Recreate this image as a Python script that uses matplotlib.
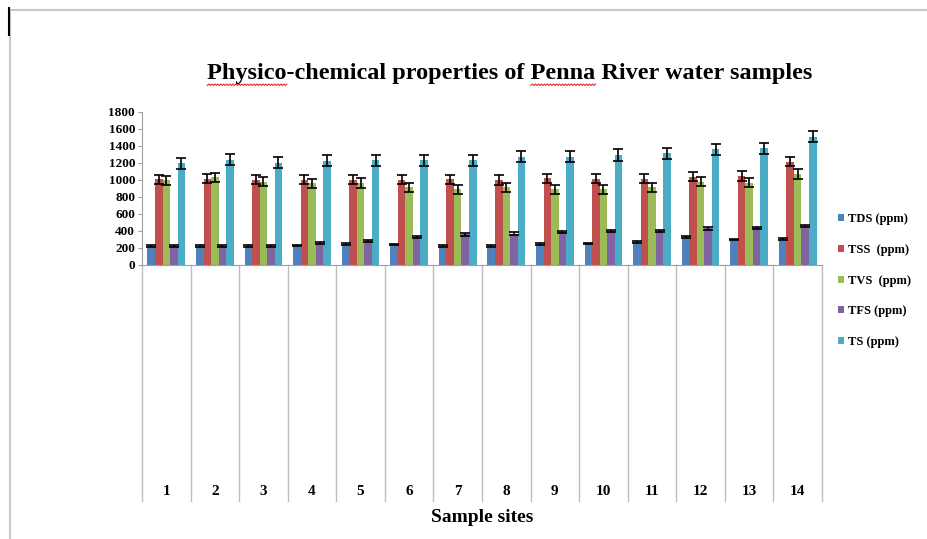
import numpy as np
import matplotlib
matplotlib.use("Agg")
import matplotlib.pyplot as plt
from matplotlib.lines import Line2D

# values (ppm)
sites = [str(i) for i in range(1, 15)]
tds = [220, 220, 215, 225, 245, 235, 220, 220, 244, 248, 267, 326, 295, 300]
tss = [1002, 1010, 1000, 1000, 1000, 1000, 1002, 994, 1014, 1010, 1010, 1034, 1041, 1210]
tvs = [990, 1026, 975, 955, 960, 908, 884, 908, 884, 884, 908, 975, 963, 1065]
tfs = [220, 220, 220, 255, 275, 326, 354, 365, 385, 397, 397, 425, 432, 452]
ts = [1195, 1235, 1200, 1220, 1230, 1230, 1230, 1270, 1270, 1290, 1310, 1356, 1368, 1505]
err = [10, 55, 55, 15, 65]

names = ["TDS (ppm)", "TSS  (ppm)", "TVS  (ppm)", "TFS (ppm)", "TS (ppm)"]
colors = ["#4F81BD", "#C0504D", "#9BBB59", "#8064A2", "#4BACC6"]
series = [tds, tss, tvs, tfs, ts]
yticks = list(range(0, 1801, 200))

W, H = 927, 539
plt.rcParams["font.family"] = ["Liberation Serif", "DejaVu Serif"]
plt.rcParams["font.weight"] = "bold"
plt.rcParams["axes.labelweight"] = "bold"

fig = plt.figure(figsize=(W / 100, H / 100), dpi=100)
ax = fig.add_axes([142 / W, 1 - 264.5 / H, 680 / W, 152.8 / H])

x = np.arange(len(sites))
bw = 0.155
for i, (vals, c, n) in enumerate(zip(series, colors, names)):
    ax.bar(x + (i - 2) * bw, vals, bw, color=c, label=n, zorder=2)
    ax.errorbar(x + (i - 2) * bw, vals, yerr=err[i], fmt="none", ecolor="black",
                elinewidth=1.2, capsize=3.5, capthick=1.2, zorder=3)

ax.set_xlim(-0.5, len(sites) - 0.5)
ax.set_ylim(0, 1800)
ax.set_yticks(yticks)
ax.tick_params(axis="y", labelsize=9.5, length=3, color="#A0A0A0", pad=2)
ax.set_xticks(x, sites)
ax.tick_params(axis="x", length=0, labelsize=11, pad=159)
ax.set_xlabel("Sample sites", fontsize=14, labelpad=8)
for s in ["top", "right"]:
    ax.spines[s].set_visible(False)
for s in ["left", "bottom"]:
    ax.spines[s].set_color("#A0A0A0")

# category separators running down to the labels
low = -(501 - 264.5) / 152.8
for k in range(len(sites) + 1):
    ax.plot([k - 0.5, k - 0.5], [0, low], transform=ax.get_xaxis_transform(),
            color="#BFBFBF", lw=1, clip_on=False)

leg = ax.legend(loc="upper left", bbox_to_anchor=(833 / W, 1 - 208 / H),
                bbox_transform=fig.transFigure, frameon=False, fontsize=9,
                handlelength=0.5, handleheight=0.5, handletextpad=0.3,
                labelspacing=1.5, borderaxespad=0)

title = "Physico-chemical properties of Penna River water samples"
tx, ty = 510 / W, 1 - 74 / H
t = fig.text(tx, ty, title, ha="center", va="center", fontsize=17.5)

# red spell-check squiggles under "Physico" and "Penna"
fig.canvas.draw()
r = fig.canvas.get_renderer()
bb = t.get_window_extent(r)
prop = t.get_fontproperties()
def wid(s):
    return r.get_text_width_height_descent(s, prop, ismath=False)[0]
for word in ["Physico", "Penna"]:
    i0 = title.index(word)
    x0 = bb.x0 + wid(title[:i0]) if i0 else bb.x0
    x1 = bb.x0 + wid(title[:i0 + len(word)])
    xs = np.linspace(x0, x1, int((x1 - x0) / 1.5) + 1)
    ys = bb.y0 - 1 + np.where(np.arange(len(xs)) % 2 == 0, 0, 1.5)
    fig.add_artist(Line2D(xs / W, ys / H, color="#E03030", lw=0.8,
                          transform=fig.transFigure))

# page frame
fig.add_artist(Line2D([10 / W, 1], [1 - 10 / H] * 2, color="#C8C8C8", lw=1.5))
fig.add_artist(Line2D([10 / W] * 2, [0, 1 - 10 / H], color="#C8C8C8", lw=1.5))
fig.add_artist(Line2D([9 / W] * 2, [1 - 35 / H, 1 - 8 / H], color="black", lw=1.5))

fig.savefig("out.png", dpi=100)
